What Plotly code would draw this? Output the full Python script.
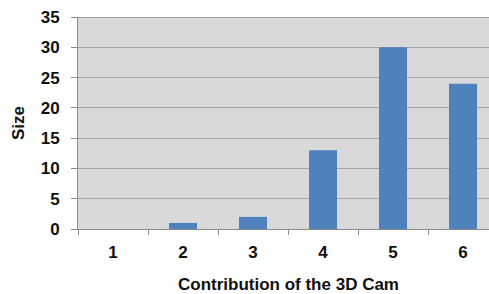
import plotly.graph_objects as go

categories = ["1", "2", "3", "4", "5", "6"]
sizes = [0, 1, 2, 13, 30, 24]
y_ticks = [0, 5, 10, 15, 20, 25, 30, 35]
x_title = "Contribution of the 3D Cam"
y_title = "Size"

FONT = "Liberation Sans, Arial, sans-serif"

fig = go.Figure()
fig.add_trace(go.Bar(
    x=categories, y=sizes, width=0.4,
    marker=dict(color="#4f81bd", line=dict(width=0)),
))

fig.update_layout(
    width=489, height=294,
    margin=dict(l=78, r=0, t=17, b=65, autoexpand=False),
    paper_bgcolor="white", plot_bgcolor="#d9d9d9",
    showlegend=False,
    font=dict(family=FONT, color="#111111"),
)
fig.update_xaxes(
    type="category", range=[-0.5, 5.371], automargin=False,
    tickson="boundaries", ticks="outside", ticklen=5, tickcolor="#8c8c8c",
    showline=True, linecolor="#8c8c8c", linewidth=1,
    showgrid=False, zeroline=False,
    tickfont=dict(family=FONT, size=17, weight="bold", color="#111111"),
    ticklabelstandoff=8,
)
fig.update_yaxes(
    range=[0, 35], tickvals=y_ticks, automargin=False,
    ticks="outside", ticklen=6, tickcolor="#8c8c8c",
    showline=True, linecolor="#8c8c8c", linewidth=1,
    showgrid=True, gridcolor="#a6a6a6", gridwidth=1, zeroline=False,
    tickfont=dict(family=FONT, size=17, weight="bold", color="#111111"),
    ticklabelstandoff=8,
    title=dict(text=y_title, font=dict(family=FONT, size=17, weight="bold", color="#111111"), standoff=11),
)
fig.add_shape(type="line", xref="paper", yref="y", x0=0, x1=1, y0=35, y1=35,
              line=dict(color="#8c8c8c", width=1.5))
fig.add_annotation(
    text=x_title, xref="x", yref="paper", x=2.5, y=-0.26,
    yanchor="middle", showarrow=False,
    font=dict(family=FONT, size=17, weight="bold", color="#111111"),
)
fig.write_html("out.html", config={"displayModeBar": False},
               post_script="document.body.style.margin='0';document.body.style.overflow='hidden';")
